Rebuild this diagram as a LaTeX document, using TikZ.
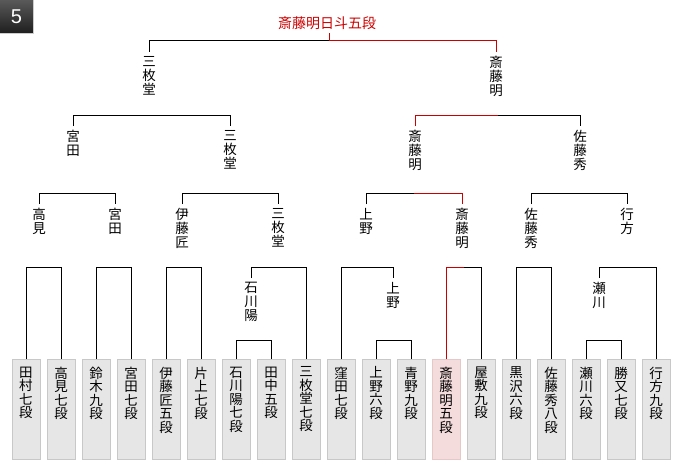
\documentclass[tikz,border=0pt]{standalone}
\usepackage{fontspec}
\setmainfont{Noto Sans CJK JP}
\newfontfamily\badgefont{Liberation Sans}
\definecolor{winred}{HTML}{CC0000}
\definecolor{boxgray}{HTML}{E6E6E6}
\definecolor{boxedge}{HTML}{C8C8C8}
\definecolor{boxpink}{HTML}{F5DCDC}
\definecolor{pinkedge}{HTML}{E6C8C8}

\begin{document}
\begin{tikzpicture}[x=1pt,y=-1pt,
  player/.style={draw=boxedge,fill=boxgray,minimum width=28pt,minimum height=100pt,inner sep=0pt,anchor=north},
  winner/.style={player,draw=pinkedge,fill=boxpink},
  pname/.style={anchor=north,inner xsep=0pt,inner ysep=7.5pt,align=center,font=\fontsize{13.5}{13.5}\selectfont},
  wname/.style={anchor=north,inner xsep=0pt,inner ysep=4pt,align=center,font=\fontsize{13.5}{13.9}\selectfont},
  bline/.style={line width=1pt},
  rline/.style={line width=1pt,draw=winred}]
  \useasboundingbox (0,0) rectangle (680,460);
  % Badge
  \shade[top color=black!65,bottom color=black!88] (0,0) rectangle (33,33);
  \draw[black!20] (0,33.5) -- (33.5,33.5) -- (33.5,0);
  \node[text=white,font=\badgefont\fontsize{20}{20}\selectfont] (badge) at (16.5,17) {5};
  % Title
  \node[text=winred,font=\fontsize{14}{14}\selectfont,inner sep=3pt] (title) at (327,23) {斎藤明日斗五段};
  % Players
  \foreach \n/\s [count=\i from 0] in {{田\\村\\七\\段}/player,{高\\見\\七\\段}/player,
      {鈴\\木\\九\\段}/player,{宮\\田\\七\\段}/player,{伊\\藤\\匠\\五\\段}/player,
      {片\\上\\七\\段}/player,{石\\川\\陽\\七\\段}/player,{田\\中\\五\\段}/player,
      {三\\枚\\堂\\七\\段}/player,{窪\\田\\七\\段}/player,{上\\野\\六\\段}/player,
      {青\\野\\九\\段}/player,{斎\\藤\\明\\五\\段}/winner,{屋\\敷\\九\\段}/player,
      {黒\\沢\\六\\段}/player,{佐\\藤\\秀\\八\\段}/player,{瀬\\川\\六\\段}/player,
      {勝\\又\\七\\段}/player,{行\\方\\九\\段}/player}{
    \node[\s] (b\i) at ({26+35*\i},359) {};
    \node[pname] at (b\i.north) {\n};
  }
  % Winners, top down
  \node[wname] (nA1) at (149,52) {三\\枚\\堂};
  \node[wname] (nA2) at (496,52) {斎\\藤\\明};
  \node[wname] (nB1) at (73,126) {宮\\田};
  \node[wname] (nB2) at (230,126) {三\\枚\\堂};
  \node[wname] (nB3) at (415,126) {斎\\藤\\明};
  \node[wname] (nB4) at (580,126) {佐\\藤\\秀};
  \node[wname] (nC1) at (39,204) {高\\見};
  \node[wname] (nC2) at (115,204) {宮\\田};
  \node[wname] (nC3) at (182,204) {伊\\藤\\匠};
  \node[wname] (nC4) at (278,204) {三\\枚\\堂};
  \node[wname] (nC5) at (366,204) {上\\野};
  \node[wname] (nC6) at (462,204) {斎\\藤\\明};
  \node[wname] (nC7) at (531,204) {佐\\藤\\秀};
  \node[wname] (nC8) at (627,204) {行\\方};
  \node[wname] (nD1) at (251,278) {石\\川\\陽};
  \node[wname] (nD2) at (393,278) {上\\野};
  \node[wname] (nD3) at (599,278) {瀬\\川};
  % Brackets
  \draw[bline] (nA1.north) -- ++(0,-11) -| (nA2.north);
  \draw[bline] (nB1.north) -- ++(0,-11) -| (nB2.north);
  \draw[bline] (nB3.north) -- ++(0,-11) -| (nB4.north);
  \foreach \a/\b in {1/2,3/4,5/6,7/8}
    \draw[bline] (nC\a.north) -- ++(0,-11) -| (nC\b.north);
  \foreach \a/\b in {0/1,2/3,4/5,12/13,14/15}
    \draw[bline] (b\a.north) -- ++(0,-92) -| (b\b.north);
  \foreach \a/\b in {6/7,10/11,16/17}
    \draw[bline] (b\a.north) -- ++(0,-19) -| (b\b.north);
  \draw[bline] (nD1.north) -- ++(0,-11) -| (b8.north);
  \draw[bline] (b9.north) -- ++(0,-92) -| (nD2.north);
  \draw[bline] (nD3.north) -- ++(0,-11) -| (b18.north);
  % Winning path
  \draw[rline] (b12.north) -- ++(0,-92) -- ++(18,0);
  \draw[rline] (nC6.north) -- ++(0,-11) -- ++(-48,0);
  \draw[rline] (nB3.north) -- ++(0,-11) -- ++(82.5,0);
  \draw[rline] (nA2.north) -- ++(0,-11) -| ([xshift=2pt]title.south);
\end{tikzpicture}
\end{document}
